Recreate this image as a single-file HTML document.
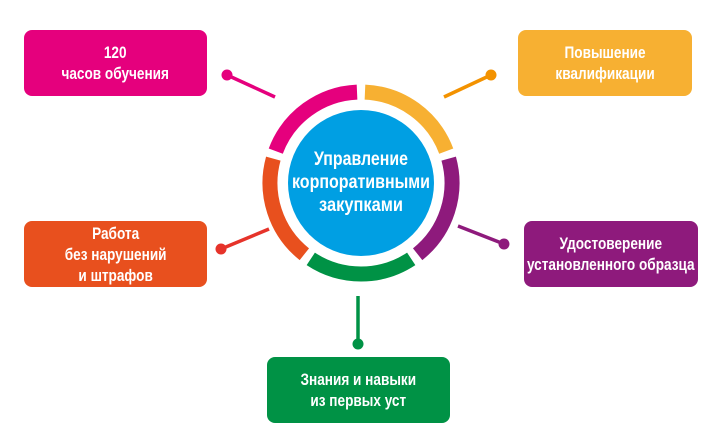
<!DOCTYPE html>
<html><head><meta charset="utf-8"><style>
html,body{margin:0;padding:0;background:#fff;width:716px;height:440px;overflow:hidden}
.b{position:absolute;border-radius:8px;color:#fff;display:flex;align-items:center;justify-content:center;text-align:center;font-family:"Liberation Sans",sans-serif;font-weight:bold;font-size:17px;line-height:21px}
.b span{display:inline-block;transform:scaleX(0.8);white-space:nowrap}
</style></head><body>
<svg width="716" height="440" style="position:absolute;left:0;top:0">
<g stroke-width="3.5" stroke-linecap="butt">
<line x1="227" y1="75" x2="275" y2="97" stroke="#e5007d"/>
<line x1="491" y1="75" x2="444" y2="97" stroke="#f39200"/>
<line x1="221" y1="249" x2="269" y2="229" stroke="#e6332a"/>
<line x1="504" y1="244" x2="458" y2="226" stroke="#8e1a7c"/>
<line x1="358" y1="344" x2="358" y2="296" stroke="#009245"/>
</g>
<circle cx="227" cy="75" r="5.5" fill="#e5007d"/>
<circle cx="491" cy="75" r="5.5" fill="#f39200"/>
<circle cx="221" cy="249" r="5.5" fill="#e6332a"/>
<circle cx="504" cy="244" r="5.5" fill="#8e1a7c"/>
<circle cx="358" cy="344" r="5.5" fill="#009245"/>
<g fill="none" stroke-width="15" id="ring"></g>
<circle cx="361" cy="183" r="73" fill="#009fe3"/>
<g fill="#fff" font-family="Liberation Sans, sans-serif" font-weight="bold" font-size="19" text-anchor="middle">
<text x="361" y="165" textLength="94" lengthAdjust="spacingAndGlyphs">Управление</text>
<text x="361" y="188" textLength="138" lengthAdjust="spacingAndGlyphs">корпоративными</text>
<text x="361" y="211" textLength="84" lengthAdjust="spacingAndGlyphs">закупками</text>
</g>
</svg>
<script>
(function(){
var cx=361,cy=183,r=91,g=document.getElementById('ring');
var segs=[[90,162,'#e5007d'],[18,90,'#f7b032'],[-54,18,'#8e1a7c'],[-126,-54,'#009245'],[162,234,'#e8501e']];
var gap=2.5;
segs.forEach(function(s){
 var a1=(s[0]+gap)*Math.PI/180,a2=(s[1]-gap)*Math.PI/180;
 var x1=cx+r*Math.cos(a1),y1=cy-r*Math.sin(a1),x2=cx+r*Math.cos(a2),y2=cy-r*Math.sin(a2);
 var p=document.createElementNS('http://www.w3.org/2000/svg','path');
 p.setAttribute('d','M'+x1+' '+y1+' A'+r+' '+r+' 0 0 0 '+x2+' '+y2);
 p.setAttribute('stroke',s[2]);g.appendChild(p);
});
})();
</script>
<div class="b" style="left:24px;top:30px;width:183px;height:66px;background:#e5007d"><span>120<br>часов обучения</span></div>
<div class="b" style="left:518px;top:30px;width:174px;height:66px;background:#f7b032"><span>Повышение<br>квалификации</span></div>
<div class="b" style="left:24px;top:221px;width:183px;height:66px;background:#e8501e"><span>Работа<br>без нарушений<br>и штрафов</span></div>
<div class="b" style="left:524px;top:221px;width:174px;height:66px;background:#8e1a7c"><span>Удостоверение<br>установленного образца</span></div>
<div class="b" style="left:267px;top:357px;width:183px;height:66px;background:#009245"><span>Знания и навыки<br>из первых уст</span></div>
</body></html>
